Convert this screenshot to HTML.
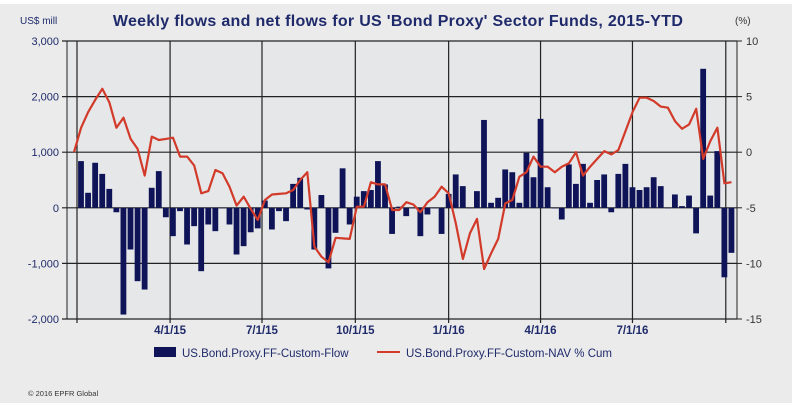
<!DOCTYPE html>
<html><head><meta charset="utf-8"><style>
body{margin:0;background:#fff;}
svg{display:block;font-family:"Liberation Sans",sans-serif;}
</style></head><body>
<svg width="796" height="407" viewBox="0 0 796 407">
<rect x="0" y="4" width="792" height="399" fill="#ebebeb"/>
<text x="398" y="26" text-anchor="middle" font-size="16" font-weight="bold" letter-spacing="0.3" fill="#1f2a6b">Weekly flows and net flows for US 'Bond Proxy' Sector Funds, 2015-YTD</text>
<text x="20" y="24" font-size="10" fill="#1f2a6b">US$ mill</text>
<text x="735" y="24" font-size="10" fill="#333">(%)</text>
<g id="grid"></g>
<g id="bars"></g>
<path id="navline" fill="none" stroke="#d23a2a" stroke-width="2.2" stroke-linejoin="round"/>
<g id="axes"></g>
<g>
<rect x="154" y="347" width="22" height="10" fill="#0f1458"/>
<text x="182" y="357" font-size="11.5" fill="#1f2a6b">US.Bond.Proxy.FF-Custom-Flow</text>
<line x1="377" y1="352" x2="400" y2="352" stroke="#d23a2a" stroke-width="2"/>
<text x="406" y="357" font-size="11.5" fill="#1f2a6b">US.Bond.Proxy.FF-Custom-NAV % Cum</text>
</g>
<text x="28" y="396" font-size="7.5" fill="#333">© 2016 EPFR Global</text>
</svg>
<script>
const flows=[840,270,810,610,340,-80,-1920,-750,-1320,-1470,360,660,-170,-510,-60,-660,-330,-1140,-300,-420,0,-300,-840,-690,-440,-370,130,-390,-60,-240,430,540,-30,-750,230,-1090,-450,710,-300,200,300,320,840,420,-470,20,-150,0,-510,-120,0,-470,250,600,390,0,300,1580,90,180,690,640,90,990,550,1600,370,0,-210,780,430,790,90,500,600,-80,610,790,370,320,370,550,390,0,240,30,220,-460,2500,220,1020,-1250,-810];
const navCum=[0,2.2,3.6,4.7,5.7,4.5,2.2,3.1,1.2,0.3,-2.1,1.4,1.1,1.2,1.3,-0.4,-0.4,-1.2,-3.7,-3.5,-1.6,-1.9,-3.1,-4.8,-4.0,-5.1,-6.1,-4.3,-3.8,-3.75,-3.7,-3.4,-2.5,-1.8,-8.5,-9.4,-9.9,-7.7,-7.75,-7.8,-4.9,-4.9,-2.7,-2.9,-2.9,-5.2,-5.2,-4.5,-4.7,-5.4,-4.5,-4.0,-3.1,-3.7,-6.4,-9.6,-7.3,-6.0,-10.5,-9.1,-7.8,-4.6,-4.3,-2.2,-1.8,-0.4,-1.3,-1.3,-1.8,-1.3,-1.0,0,-2.1,-1.3,-0.6,0.1,-0.2,0.2,1.9,3.6,4.9,4.9,4.6,4.1,4.0,2.8,2.1,2.5,3.9,-0.6,1.0,2.2,-2.8,-2.7];
const leftTicks=[3000,2000,1000,0,-1000,-2000];
const leftTickLabels=["3,000","2,000","1,000","0","-1,000","-2,000"];
const rightTicks=[10,5,0,-5,-10,-15];
const dateLabels=["4/1/15","7/1/15","10/1/15","1/1/16","4/1/16","7/1/16",""];
const dateWeeks=[12.6,25.6,38.8,52,65,78,91.2];

const NS="http://www.w3.org/2000/svg";
const L=67,R=737,T=41,B=319;
const yL=v=>T+(3000-v)*(B-T)/5000;
const yR=v=>T+(10-v)*(B-T)/25;
const xW=i=>81+i*7.07;
const xN=i=>74+i*7.07;
function mk(tag,attrs,parent){const e=document.createElementNS(NS,tag);for(const k in attrs)e.setAttribute(k,attrs[k]);parent.appendChild(e);return e;}
const grid=document.getElementById('grid'),bars=document.getElementById('bars'),axes=document.getElementById('axes');
let e=mk('rect',{x:L,y:T,width:R-L,height:B-T,fill:'#e6e7e8',stroke:'#222','stroke-width':1},grid);


leftTicks.forEach((v,i)=>{
  const y=yL(v);
  let g=mk('line',{x1:L-5,x2:R,y1:y,y2:y,stroke:'#222','stroke-width':1.2},grid);
  
  
  let t=mk('text',{x:L-8,y:y+4,'text-anchor':'end','font-size':11,fill:'#1f2a6b'},axes);
  t.textContent=leftTickLabels[i];
  
  
});
rightTicks.forEach(v=>{
  const y=yR(v);
  let k=mk('line',{x1:R,x2:R+5,y1:y,y2:y,stroke:'#222'},axes);
  
  
  let t=mk('text',{x:R+9,y:y+4,'font-size':11,fill:'#333'},axes);
  t.textContent=v;
  
  
});
let g0=mk('line',{x1:77,x2:77,y1:T,y2:B+4,stroke:'#222','stroke-width':1.2},grid);


dateWeeks.forEach((w,i)=>{
  const x=xW(w);
  let g=mk('line',{x1:x,x2:x,y1:T,y2:B+4,stroke:'#222','stroke-width':1.2},grid);
  
  
  if(dateLabels[i]){
    let t=mk('text',{x:x,y:334,'text-anchor':'middle','font-size':11.5,'font-weight':'bold',fill:'#1f2a6b'},axes);
    t.textContent=dateLabels[i];
    
    
  }
});
flows.forEach((v,i)=>{
  const x=xW(i),y0=yL(0),y=yL(v);
  let b=mk('rect',{x:x-2.9,y:Math.min(y,y0),width:5.8,height:Math.max(Math.abs(y-y0),0.5),fill:'#0f1458'},bars);
  
  
});
document.getElementById('navline').setAttribute('d',navCum.map((v,i)=>(i?'L':'M')+xN(i).toFixed(1)+','+yR(v).toFixed(1)).join(''));
</script>
</body></html>
